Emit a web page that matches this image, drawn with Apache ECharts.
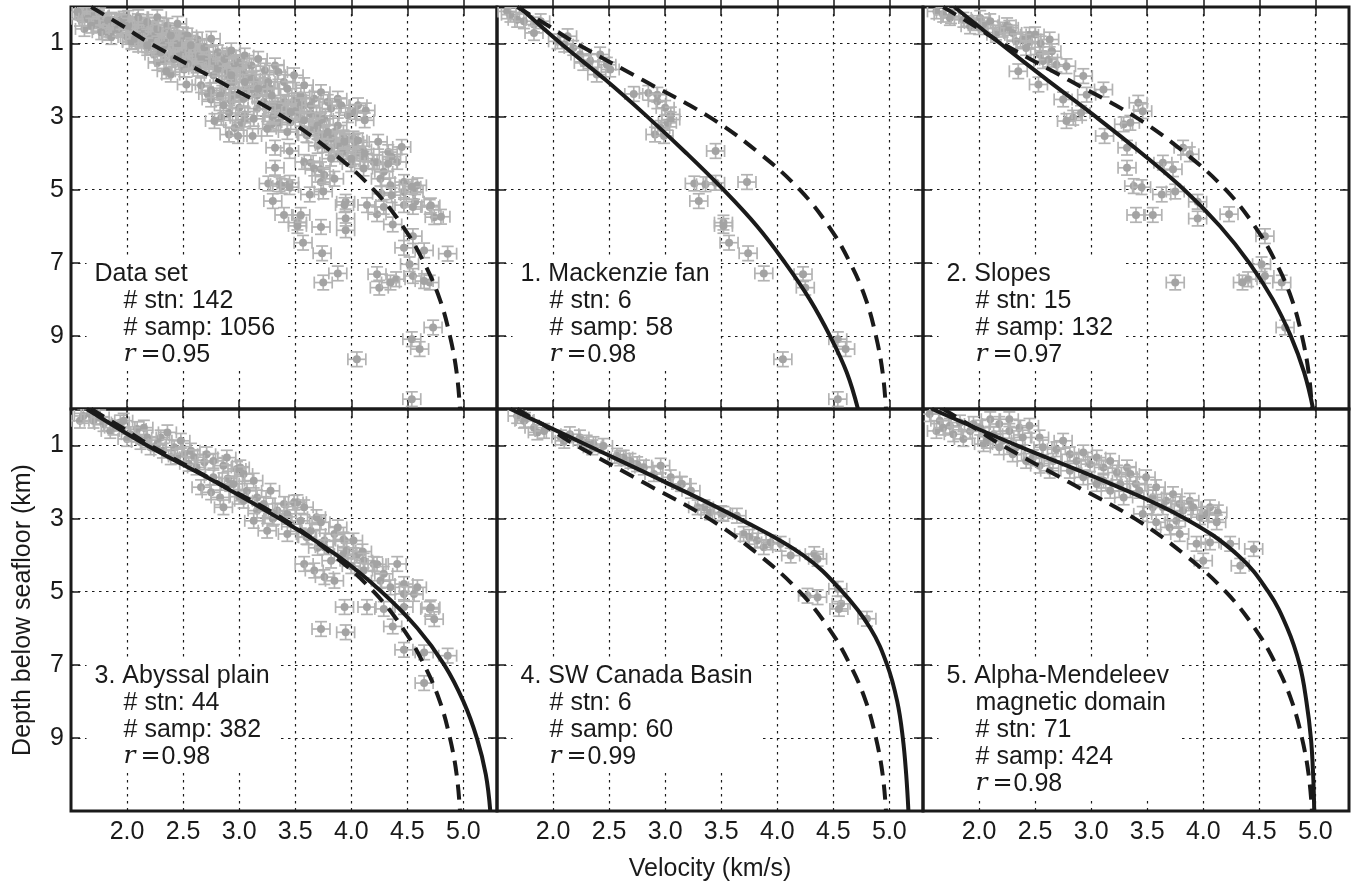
<!DOCTYPE html>
<html>
<head>
<meta charset="utf-8">
<script src="https://cdn.jsdelivr.net/npm/echarts@6/dist/echarts.min.js"></script>
<style>
html,body{margin:0;padding:0;background:#fff;}
#c{width:1355px;height:883px;}
</style>
</head>
<body>
<div id="c"></div>
<script>
// ---------------- DATA ----------------
const xTickValues = [2.0, 2.5, 3.0, 3.5, 4.0, 4.5, 5.0];
const yTickValues = [1, 3, 5, 7, 9];
const X_ERR = 0.08;   // km/s
const Y_ERR = 0.2;    // km

const panelHeads = [
  ['Data set'],
  ['1. Mackenzie fan'],
  ['2. Slopes'],
  ['3. Abyssal plain'],
  ['4. SW Canada Basin'],
  ['5. Alpha-Mendeleev', 'magnetic domain']
];
const stnCounts  = [142, 6, 15, 44, 6, 71];
const sampCounts = [1056, 58, 132, 382, 60, 424];
const rValues    = ['0.95', '0.98', '0.97', '0.98', '0.99', '0.98'];

// fitted curves: [velocity km/s, depth km]
const fitGlobal = [[1.68,0],[1.95,0.5],[2.21,1],[2.80,2],[3.39,3],[3.84,4],[4.20,5],[4.46,6],[4.65,7],[4.79,8],[4.88,9],[4.94,10],[4.97,11]];
const fitMackenzie = [[1.70,0],[2.07,1],[2.47,2],[2.84,3],[3.19,4],[3.52,5],[3.82,6],[4.07,7],[4.29,8],[4.47,9],[4.62,10],[4.72,11]];
const fitSlopes = [[1.78,0],[2.19,1],[2.61,2],[3.04,3],[3.45,4],[3.83,5],[4.15,6],[4.41,7],[4.62,8],[4.78,9],[4.90,10],[4.98,11]];
const fitAbyssal = [[1.64,0],[2.18,1],[2.79,2],[3.36,3],[3.87,4],[4.27,5],[4.59,6],[4.83,7],[5.00,8],[5.12,9],[5.20,10],[5.24,11]];
const fitCanada = [[1.62,0],[2.31,1],[3.00,2],[3.66,3],[4.23,4],[4.58,5],[4.83,6],[4.98,7],[5.07,8],[5.12,9],[5.15,10],[5.17,11]];
const fitAlpha = [[1.58,0],[2.34,1],[3.14,2],[3.84,3],[4.31,4],[4.58,5],[4.75,6],[4.86,7],[4.92,8],[4.96,9],[4.98,10],[4.99,11]];

// samples: [velocity km/s, depth km]
const ptsMackenzie = [[1.59,0.12],[1.62,0.21],[1.68,0.35],[1.74,0.39],[1.83,0.48],[1.83,0.71],[1.89,0.39],[2.04,0.94],[2.13,0.80],[2.10,1.03],[2.18,1.12],[2.24,1.30],[2.27,1.53],[2.33,1.48],[2.42,1.30],[2.48,1.58],[2.51,1.71],[2.39,1.85],[2.72,2.38],[2.85,2.35],[2.93,2.40],[2.93,2.58],[3.00,2.76],[3.05,2.94],[3.05,3.08],[3.02,3.17],[2.96,3.31],[2.91,3.49],[2.99,3.53],[3.45,3.94],[3.26,4.83],[3.36,4.85],[3.45,4.81],[3.73,4.79],[3.30,5.31],[3.52,5.90],[3.52,5.99],[3.57,6.45],[3.74,6.74],[3.88,7.29],[4.23,7.31],[4.25,7.68],[4.54,9.09],[4.61,9.36],[4.05,9.64],[4.54,10.73]];
const ptsSlopes = [[1.62,0.12],[1.68,0.21],[1.74,0.30],[1.75,0.25],[1.86,0.35],[1.92,0.53],[1.95,0.44],[2.00,0.55],[2.01,0.30],[2.04,0.48],[2.10,0.39],[2.15,0.70],[2.15,0.76],[2.21,0.62],[2.25,0.50],[2.27,0.57],[2.30,0.71],[2.33,0.94],[2.39,0.89],[2.45,0.95],[2.45,0.76],[2.50,0.75],[2.42,1.12],[2.54,1.30],[2.55,1.00],[2.57,1.48],[2.63,0.89],[2.65,1.21],[2.62,1.44],[2.69,1.58],[2.78,1.62],[2.35,1.76],[2.53,2.12],[2.75,2.53],[2.93,1.89],[2.96,2.40],[3.11,2.26],[2.84,3.03],[2.91,2.90],[2.78,3.12],[3.12,3.53],[3.32,3.85],[3.32,4.40],[3.29,3.21],[3.35,3.17],[3.42,2.62],[3.46,2.85],[3.64,4.26],[3.73,4.44],[3.82,3.85],[3.88,4.03],[3.38,4.90],[3.45,4.93],[3.63,5.13],[3.75,5.05],[3.40,5.69],[3.55,5.69],[3.95,5.33],[3.95,5.79],[4.23,5.67],[4.55,6.27],[4.52,7.04],[4.55,7.36],[4.40,7.45],[4.35,7.54],[4.70,7.54],[3.75,7.54],[4.73,8.77]];
const ptsAbyssal = [[1.58,0.32],[1.61,0.19],[1.67,0.14],[1.70,0.32],[1.76,0.23],[1.79,0.41],[1.85,0.60],[1.88,0.51],[1.94,0.37],[1.97,0.32],[2.00,0.82],[2.03,0.69],[2.09,0.55],[2.12,0.90],[2.15,0.51],[2.18,0.78],[2.21,1.05],[2.27,0.96],[2.30,0.78],[2.36,0.64],[2.32,1.14],[2.39,1.32],[2.42,1.05],[2.45,1.30],[2.48,0.87],[2.51,1.23],[2.55,1.50],[2.57,1.14],[2.60,1.32],[2.62,1.60],[2.69,1.46],[2.71,1.24],[2.77,1.42],[2.77,1.87],[2.86,1.55],[2.89,1.33],[2.90,1.90],[2.92,2.05],[2.98,1.64],[3.01,1.60],[3.04,1.78],[2.66,2.14],[2.75,2.28],[2.83,2.42],[2.86,2.69],[2.95,2.05],[3.00,2.40],[3.04,2.51],[3.07,2.24],[3.13,1.96],[3.16,2.42],[3.16,2.78],[3.22,2.60],[3.28,2.24],[3.13,3.06],[3.25,3.33],[3.30,3.00],[3.31,2.96],[3.34,2.78],[3.40,2.60],[3.43,2.87],[3.46,3.15],[3.49,2.56],[3.52,2.55],[3.55,3.06],[3.58,2.69],[3.60,3.50],[3.61,3.51],[3.64,3.33],[3.69,2.96],[3.73,3.10],[3.43,3.42],[3.70,3.80],[3.76,3.60],[3.76,3.78],[3.85,3.42],[3.88,3.24],[3.93,3.57],[3.94,3.60],[3.93,3.97],[3.96,3.87],[4.02,3.60],[4.05,4.01],[4.10,3.90],[4.11,4.15],[4.00,4.30],[4.20,4.24],[4.23,4.25],[4.29,4.51],[4.41,4.24],[3.82,4.15],[3.58,4.24],[3.67,4.42],[3.76,4.60],[3.85,4.70],[4.11,4.42],[4.26,4.70],[4.35,4.88],[4.47,4.79],[4.47,5.06],[4.56,5.06],[4.59,4.88],[3.94,5.42],[4.14,5.42],[4.29,5.47],[4.47,5.42],[4.70,5.47],[4.71,5.43],[4.74,5.75],[3.73,6.02],[3.95,6.11],[4.37,5.95],[4.47,6.59],[4.65,6.66],[4.86,6.75],[4.65,7.50]];
const ptsCanada = [[1.68,0.19],[1.74,0.32],[1.75,0.30],[1.83,0.51],[1.86,0.64],[1.92,0.60],[2.07,0.78],[2.10,0.87],[2.15,0.69],[2.24,0.78],[2.30,0.92],[2.35,1.05],[2.36,0.96],[2.45,1.01],[2.57,1.28],[2.60,1.35],[2.63,1.33],[2.69,1.42],[2.75,1.51],[2.81,1.60],[2.90,1.78],[2.96,1.55],[3.05,1.87],[3.14,2.05],[3.15,2.05],[3.23,2.24],[3.29,2.69],[3.35,2.69],[3.40,2.83],[3.50,2.85],[3.52,2.87],[3.64,2.92],[3.70,3.42],[3.75,3.50],[3.82,3.60],[3.88,3.78],[3.94,3.65],[4.03,3.69],[4.12,4.01],[4.33,3.97],[4.36,4.10],[4.27,5.11],[4.36,5.15],[4.54,4.92],[4.57,5.33],[4.55,5.47],[4.80,5.74]];
const ptsAlpha = [[1.56,0.14],[1.62,0.60],[1.65,0.32],[1.74,0.46],[1.68,0.51],[1.77,0.69],[1.83,0.37],[1.86,0.82],[1.92,0.60],[1.95,0.41],[2.01,0.51],[2.04,0.96],[2.10,0.28],[2.13,0.69],[2.18,0.41],[2.21,0.87],[2.27,0.60],[2.27,0.28],[2.33,1.05],[2.36,0.51],[2.39,0.78],[2.45,0.46],[2.48,1.32],[2.54,0.78],[2.57,1.05],[2.66,1.42],[2.07,0.87],[2.18,1.05],[2.30,1.24],[2.42,1.42],[2.54,1.55],[2.63,1.69],[2.69,1.10],[2.75,0.87],[2.81,1.24],[2.81,1.69],[2.87,1.42],[2.93,1.19],[2.93,1.87],[2.99,1.51],[3.05,1.33],[3.11,1.60],[3.11,1.96],[3.17,1.42],[3.23,1.74],[3.26,2.05],[3.32,1.60],[3.35,1.78],[3.40,2.05],[3.49,1.87],[3.05,2.05],[3.17,2.24],[3.29,2.42],[3.43,2.24],[3.55,2.42],[3.55,2.69],[3.58,2.14],[3.64,2.69],[3.67,2.51],[3.73,2.33],[3.76,3.06],[3.79,2.60],[3.82,2.78],[3.88,2.51],[3.91,2.69],[3.97,2.96],[4.06,2.69],[3.46,2.87],[3.58,3.10],[3.70,3.24],[3.79,3.42],[4.03,2.87],[4.13,2.83],[4.12,3.10],[3.94,3.69],[4.06,3.65],[4.24,3.69],[4.45,3.83],[4.00,4.15],[4.33,4.29]];
const ptsAll = [].concat(ptsMackenzie, ptsSlopes, ptsAbyssal, ptsCanada, ptsAlpha);

const panelPoints = [ptsAll, ptsMackenzie, ptsSlopes, ptsAbyssal, ptsCanada, ptsAlpha];
const panelFits = [null, fitMackenzie, fitSlopes, fitAbyssal, fitCanada, fitAlpha];

// ---------------- LAYOUT / STYLE ----------------
const SANS = "'Liberation Sans', Arial, Helvetica, sans-serif";
const SERIF = "'DejaVu Serif', 'Liberation Serif', serif";
const INK = '#1a1a1a';
const ERR_COLOR = '#b3b3b3';
const PT_COLOR = '#a3a3a3';
const COL_LEFT = [71, 497, 923];
const ROW_TOP = [7, 409];
const W = 426, H = 402;
const FONT = 25;
const NOTE_X = 1.71, NOTE_Y = 7.3, NOTE_LH = 27;

const chart = echarts.init(document.getElementById('c'), null, {renderer: 'canvas'});

function renderErr(params, api) {
  const x = api.value(0), y = api.value(1);
  const c = api.coord([x, y]);
  const xl = api.coord([x - X_ERR, y])[0];
  const xr = api.coord([x + X_ERR, y])[0];
  const yt = api.coord([x, y - Y_ERR])[1];
  const yb = api.coord([x, y + Y_ERR])[1];
  const cap = 6;
  const st = {stroke: ERR_COLOR, lineWidth: 1.7, fill: null};
  return {
    type: 'group',
    children: [
      {type: 'line', shape: {x1: xl, y1: c[1], x2: xr, y2: c[1]}, style: st},
      {type: 'line', shape: {x1: xl, y1: c[1] - cap, x2: xl, y2: c[1] + cap}, style: st},
      {type: 'line', shape: {x1: xr, y1: c[1] - cap, x2: xr, y2: c[1] + cap}, style: st},
      {type: 'line', shape: {x1: c[0], y1: yt, x2: c[0], y2: yb}, style: st},
      {type: 'line', shape: {x1: c[0] - cap, y1: yt, x2: c[0] + cap, y2: yt}, style: st},
      {type: 'line', shape: {x1: c[0] - cap, y1: yb, x2: c[0] + cap, y2: yb}, style: st},
      {type: 'circle', shape: {cx: c[0], cy: c[1], r: 4}, style: {fill: PT_COLOR}}
    ]
  };
}

const grid = [], xAxis = [], yAxis = [], series = [];
const dotted = {show: true, lineStyle: {color: INK, width: 1.2, type: [2.5, 4.5]}};
for (let p = 0; p < 6; p++) {
  const col = p % 3, row = Math.floor(p / 3);
  grid.push({left: COL_LEFT[col], top: ROW_TOP[row], width: W, height: H,
    show: true, borderColor: INK, borderWidth: 3, backgroundColor: 'rgba(0,0,0,0)'});
}
for (let p = 0; p < 6; p++) {
  const row = Math.floor(p / 3);
  xAxis.push({
    type: 'value', gridIndex: p, position: 'bottom', min: 1.5, max: 5.3,
    axisLine: {show: false},
    axisTick: {show: true, inside: true, length: 9, customValues: xTickValues, lineStyle: {color: INK, width: 1.5}},
    axisLabel: {show: row === 1, customValues: xTickValues, formatter: v => v.toFixed(1),
      fontSize: FONT, fontFamily: SANS, color: INK, margin: 9},
    splitLine: dotted,
    name: p === 4 ? 'Velocity (km/s)' : '', nameLocation: 'middle', nameGap: 46,
    nameTextStyle: {fontSize: FONT, fontFamily: SANS, color: INK}
  });
}
for (let p = 0; p < 6; p++) {
  xAxis.push({
    type: 'value', gridIndex: p, position: 'top', min: 1.5, max: 5.3,
    axisLine: {show: false},
    axisTick: {show: true, inside: true, length: 9, customValues: xTickValues, lineStyle: {color: INK, width: 1.5}},
    axisLabel: {show: false}, splitLine: {show: false}
  });
}
for (let p = 0; p < 6; p++) {
  const col = p % 3;
  yAxis.push({
    type: 'value', gridIndex: p, position: 'left', min: 0, max: 11, inverse: true,
    axisLine: {show: false},
    axisTick: {show: true, inside: true, length: 9, customValues: yTickValues, lineStyle: {color: INK, width: 1.5}},
    axisLabel: {show: col === 0, customValues: yTickValues, fontSize: FONT, fontFamily: SANS, color: INK, margin: 7},
    splitLine: dotted,
    name: p === 3 ? 'Depth below seafloor (km)' : '', nameLocation: 'middle', nameGap: 35,
    nameTextStyle: {fontSize: FONT, fontFamily: SANS, color: INK}
  });
}
for (let p = 0; p < 6; p++) {
  yAxis.push({
    type: 'value', gridIndex: p, position: 'right', min: 0, max: 11, inverse: true,
    axisLine: {show: false},
    axisTick: {show: true, inside: true, length: 9, customValues: yTickValues, lineStyle: {color: INK, width: 1.5}},
    axisLabel: {show: false}, splitLine: {show: false}
  });
}
for (let p = 0; p < 6; p++) {
  series.push({
    type: 'custom', xAxisIndex: p, yAxisIndex: p, data: panelPoints[p],
    renderItem: renderErr, clip: true, silent: true, z: 3
  });
  if (panelFits[p]) {
    series.push({
      type: 'line', xAxisIndex: p, yAxisIndex: p, data: panelFits[p], showSymbol: false,
      smooth: 0.4, clip: true, silent: true, z: 5,
      lineStyle: {color: INK, width: 4}
    });
  }
  series.push({
    type: 'line', xAxisIndex: p, yAxisIndex: p, data: fitGlobal, showSymbol: false,
    smooth: 0.4, clip: true, silent: true, z: 5,
    lineStyle: {color: INK, width: 4, type: [15, 9], cap: 'butt'}
  });
}

chart.setOption({
  animation: false,
  backgroundColor: '#ffffff',
  grid: grid, xAxis: xAxis, yAxis: yAxis, series: series
});

// annotation blocks with white background
const graphics = [];
for (let p = 0; p < 6; p++) {
  const px = chart.convertToPixel({xAxisIndex: p}, NOTE_X);
  const py = chart.convertToPixel({yAxisIndex: p}, NOTE_Y);
  const lines = [];
  panelHeads[p].forEach((h, i) => lines.push(i === 0 ? '{h|' + h + '}' : '{i|' + h + '}'));
  lines.push('{i|# stn: ' + stnCounts[p] + '}');
  lines.push('{i|# samp: ' + sampCounts[p] + '}');
  lines.push('{ri|r}{eq|=}{n|' + rValues[p] + '}');
  const padTop = 3, padLeft = 8;
  graphics.push({
    type: 'text', z: 10, silent: true,
    x: px - padLeft, y: py - NOTE_LH / 2 - padTop,
    style: {
      text: lines.join('\n'),
      align: 'left', verticalAlign: 'top',
      backgroundColor: '#ffffff',
      padding: [padTop, 10, 2, padLeft],
      fill: INK, fontSize: FONT, fontFamily: SANS, lineHeight: NOTE_LH,
      rich: {
        h: {fontSize: FONT, fontFamily: SANS, fill: INK, lineHeight: NOTE_LH},
        i: {fontSize: FONT, fontFamily: SANS, fill: INK, lineHeight: NOTE_LH, padding: [0, 0, 0, 29]},
        ri: {fontSize: FONT, fontFamily: SERIF, fontStyle: 'italic', fill: INK, lineHeight: NOTE_LH, padding: [0, 5, 0, 29]},
        eq: {fontSize: 24, fontFamily: SERIF, fill: INK, lineHeight: NOTE_LH, padding: [0, 1, 0, 0]},
        n: {fontSize: FONT, fontFamily: SANS, fill: INK, lineHeight: NOTE_LH}
      }
    }
  });
}
chart.setOption({graphic: graphics});
</script>
</body>
</html>
